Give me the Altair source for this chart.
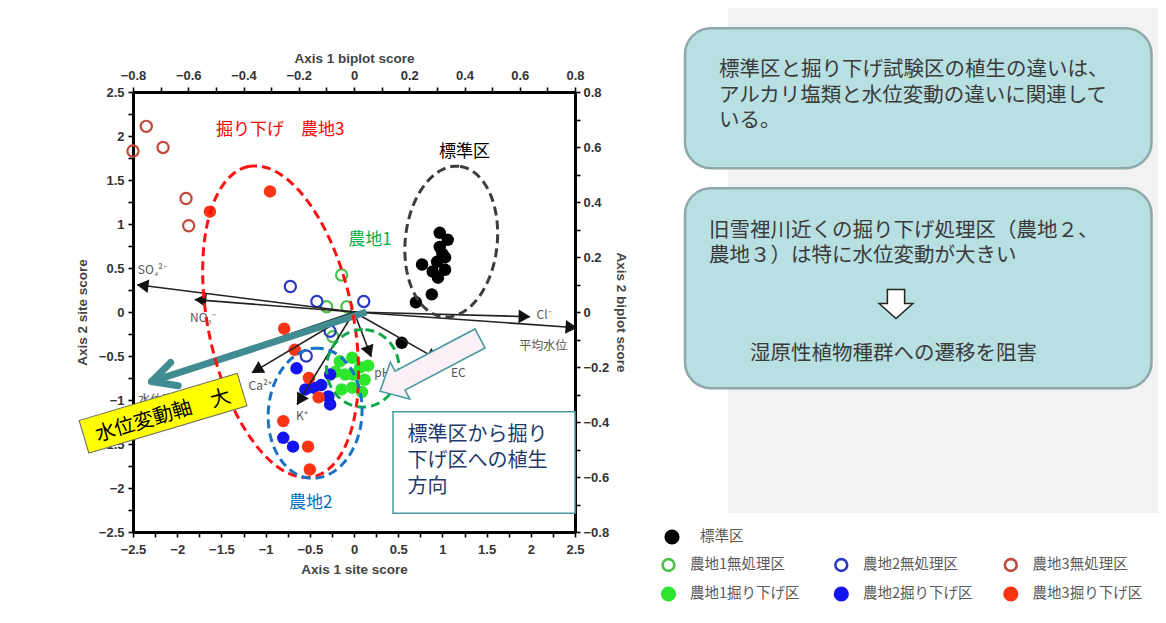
import math
import numpy as np
import pandas as pd
import altair as alt

CJK = "Noto Sans CJK JP"
LAT = "Liberation Sans"

# ------------------------------------------------------------------ data
groups = ["標準区", "農地1無処理区", "農地1掘り下げ区", "農地2無処理区",
          "農地2掘り下げ区", "農地3無処理区", "農地3掘り下げ区"]
group_colors = ["#000000", "#48c248", "#2ee52e", "#2b39c2", "#1414f0", "#c2483a", "#fa3414"]
group_filled = [True, False, True, False, True, False, True]

std_x = [0.97, 1.06, 0.97, 1.03, 0.77, 0.89, 1.03, 0.95, 0.88, 0.70, 0.54, 0.94, 1.00]
std_y = [0.90, 0.82, 0.74, 0.62, 0.54, 0.46, 0.48, 0.39, 0.20, 0.11, -0.35, 0.57, 0.66]
f1_ctrl_x = [-0.14, -0.31, -0.08, -0.24]
f1_ctrl_y = [0.42, 0.06, 0.06, -0.28]
f1_dig_x = [-0.16, -0.02, 0.07, -0.10, 0.12, -0.02, -0.14, 0.09, 0.16, -0.21, -0.01]
f1_dig_y = [-0.56, -0.52, -0.63, -0.71, -0.77, -0.86, -0.88, -0.91, -0.61, -0.68, -0.71]
f2_ctrl_x = [-0.72, -0.42, 0.11, -0.27, -0.54]
f2_ctrl_y = [0.29, 0.12, 0.12, -0.22, -0.50]
f2_dig_x = [-0.65, -0.27, -0.46, -0.37, -0.29, -0.27, -0.80, -0.69, -0.55]
f2_dig_y = [-0.64, -0.71, -0.86, -0.83, -0.96, -1.05, -1.43, -1.53, -0.88]
f3_ctrl_x = [-2.35, -2.50, -2.16, -1.90, -1.87]
f3_ctrl_y = [2.11, 1.83, 1.87, 1.29, 0.98]
f3_dig_x = [-1.63, -0.95, -0.79, -0.67, -0.51, -0.40, -0.80, -0.52, -0.50]
f3_dig_y = [1.14, 1.37, -0.19, -0.43, -0.75, -0.97, -1.24, -1.53, -1.79]

# environmental vectors (biplot scores)
env_names = ["SO₄²⁻", "NO₃⁻", "Cl⁻", "平均水位", "pH", "EC", "Ca²⁺", "K⁺", "水位変動"]
env_axis1 = [-0.785, -0.576, 0.637, 0.807, 0.062, 0.304, -0.369, -0.206, -0.731]
env_axis2 = [0.099, 0.045, -0.017, -0.057, -0.163, -0.173, -0.221, -0.337, -0.253]
env_lab_x = [-2.28, -1.71, 2.15, 2.14, 0.32, 1.18, -1.06, -0.59, -2.17]
env_lab_y = [0.48, -0.07, -0.03, -0.39, -0.69, -0.69, -0.84, -1.18, -1.00]

site_ticks = [round(-2.5 + 0.25 * i, 2) for i in range(21)]
biplot_ticks = [round(-0.8 + 0.1 * i, 2) for i in range(17)]

box1_lines = ["標準区と掘り下げ試験区の植生の違いは、", "アルカリ塩類と水位変動の違いに関連して", "いる。"]
box2_lines = ["旧雪裡川近くの掘り下げ処理区（農地２、", "農地３）は特に水位変動が大きい"]
box2_result = "湿原性植物種群への遷移を阻害"
dir_lines = ["標準区から掘り", "下げ区への植生", "方向"]

# ------------------------------------------------------------------ geometry helpers
R = 2.5 / 0.8            # site / biplot ratio
W, H = 442, 440
XS, YS = W / 5.0, H / 5.0  # px per site unit
PL, PT = 133.0, 92.0       # page position of plot origin


def px(v):
    return v - PL


def py(v):
    return v - PT


one = pd.DataFrame({"k": [0]})

sx = alt.Scale(domain=[-2.5, 2.5], nice=False, zero=False)
sy = alt.Scale(domain=[-2.5, 2.5], nice=False, zero=False)


def ax(**kw):
    base = dict(domainColor="black", domainWidth=3, tickColor="black", tickWidth=1.6, tickSize=5,
                labelFont=LAT, labelFontSize=13, labelFontWeight="bold", labelColor="#333",
                titleFont=LAT, titleFontSize=13.5, titleFontWeight="bold", titleColor="#444",
                grid=False, labelOverlap=False, labelFlush=False, labelBound=False)
    base.update(kw)
    return alt.Axis(**base)


site_expr = "abs(datum.value*2 - round(datum.value*2)) < 0.001 ? format(datum.value, '~g') : ''"
bi_expr = "abs(datum.value*5 - round(datum.value*5)) < 0.001 ? format(datum.value, '~g') : ''"

x_axis = ax(orient="bottom", title="Axis 1 site score", values=site_ticks, labelExpr=site_expr,
            labelPadding=6, titlePadding=6)
y_axis = ax(orient="left", title="Axis 2 site score", values=site_ticks, labelExpr=site_expr,
            labelPadding=4, titlePadding=9)


def X(f):
    return alt.X(f, type="quantitative", scale=sx, axis=x_axis)


def Y(f):
    return alt.Y(f, type="quantitative", scale=sy, axis=y_axis)


def block_text(lines, x, y_first, lh, size, color):
    """multi-line text block; the first line is centred on y_first"""
    return alt.Chart(one).mark_text(text=lines, font=CJK, fontSize=size, color=color, align="left",
                                    baseline="middle", lineHeight=lh).encode(
        x=alt.value(px(x)), y=alt.value(py(y_first)))


layers = []

# grey page background right of the figure
layers.append(alt.Chart(one).mark_rect(color="#f2f2f2").encode(
    x=alt.value(px(728)), x2=alt.value(px(1160)), y=alt.value(py(6)), y2=alt.value(py(513))))

# right-hand explanation boxes
for (y0, y1) in [(28.3, 168.3), (188.3, 388.3)]:
    layers.append(alt.Chart(one).mark_rect(fill="#b8dfe2", stroke="#8fa9aa", strokeWidth=2.5,
                                           cornerRadius=26).encode(
        x=alt.value(px(685)), x2=alt.value(px(1151.5)), y=alt.value(py(y0)), y2=alt.value(py(y1))))

# ------------------------------------------------------------------ points
rows = []
all_x = [std_x, f1_ctrl_x, f1_dig_x, f2_ctrl_x, f2_dig_x, f3_ctrl_x, f3_dig_x]
all_y = [std_y, f1_ctrl_y, f1_dig_y, f2_ctrl_y, f2_dig_y, f3_ctrl_y, f3_dig_y]
for g, xl, yl, fl in zip(groups, all_x, all_y, group_filled):
    for a, b in zip(xl, yl):
        rows.append({"group": g, "x": a, "y": b, "filled": fl})
pts = pd.DataFrame(rows)
cscale = alt.Scale(domain=groups, range=group_colors)

layers.append(alt.Chart(pts[~pts["filled"]]).mark_point(filled=False, size=125, strokeWidth=2.2, opacity=1).encode(
    x=X("x"), y=Y("y"), color=alt.Color("group:N", scale=cscale, legend=None)))
layers.append(alt.Chart(pts[pts["filled"]]).mark_circle(size=155, opacity=1).encode(
    x=X("x"), y=Y("y"), color=alt.Color("group:N", scale=cscale, legend=None)))

# ------------------------------------------------------------------ biplot arrows
env = pd.DataFrame({"name": env_names, "b1": env_axis1, "b2": env_axis2,
                    "lx": env_lab_x, "ly": env_lab_y})
env["ex"] = env["b1"] * R
env["ey"] = env["b2"] * R
env["x0"] = 0.0
env["y0"] = 0.0
scr_x = env["ex"].to_numpy() * XS
scr_y = -env["ey"].to_numpy() * YS
ln = np.hypot(scr_x, scr_y)
ux, uy = scr_x / ln, scr_y / ln
env["hx"] = env["ex"] - 5.5 * ux / XS
env["hy"] = env["ey"] + 5.5 * uy / YS
env["ang"] = (np.degrees(np.arctan2(ux, -uy)) + 360) % 360

layers.append(alt.Chart(env).mark_rule(color="#222", strokeWidth=1.6).encode(
    x=X("x0"), y=Y("y0"), x2="ex", y2="ey"))
layers.append(alt.Chart(env).mark_point(shape="triangle-up", filled=True, size=185, color="#111", opacity=1).encode(
    x=X("hx"), y=Y("hy"), angle=alt.Angle("ang:Q", scale=None)))
layers.append(alt.Chart(env).mark_text(font=CJK, fontSize=12, color="#555").encode(
    x=X("lx"), y=Y("ly"), text="name:N"))

# ------------------------------------------------------------------ teal water-level axis arrow
TEAL = "#418c90"
t_start = (0.14, 0.0)
t_end = (-2.29, -0.79)
teal = pd.DataFrame({"x": [t_start[0]], "y": [t_start[1]], "x2": [t_end[0]], "y2": [t_end[1]]})
layers.append(alt.Chart(teal).mark_rule(color=TEAL, strokeWidth=7, strokeCap="butt").encode(
    x=X("x"), y=Y("y"), x2="x2", y2="y2"))
dxs = (t_start[0] - t_end[0]) * XS
dys = -(t_start[1] - t_end[1]) * YS
L = math.hypot(dxs, dys)
bx, by = dxs / L, dys / L
barbs = []
for sgn in (1, -1):
    th = math.radians(27 * sgn)
    rx = bx * math.cos(th) - by * math.sin(th)
    ry = bx * math.sin(th) + by * math.cos(th)
    barbs.append({"x": t_end[0], "y": t_end[1],
                  "x2": t_end[0] + 27 * rx / XS, "y2": t_end[1] - 27 * ry / YS})
layers.append(alt.Chart(pd.DataFrame(barbs)).mark_rule(color=TEAL, strokeWidth=7, strokeCap="round").encode(
    x=X("x"), y=Y("y"), x2="x2", y2="y2"))

# ------------------------------------------------------------------ dashed ellipses
ellipses = [
    # cx, cy, a, b, angle, colour
    (-0.83, -0.11, 1.80, 0.82, 101.7, "#ff1010"),
    (1.10, 0.80, 0.86, 0.52, 84.0, "#3c3c3c"),
    (0.10, -0.64, 0.44, 0.41, 90.0, "#10a84a"),
    (-0.44, -1.15, 0.74, 0.53, 86.0, "#1a72c4"),
]
t = np.linspace(0, 2 * np.pi, 161)
for (cx, cy, a, b, phi, col) in ellipses:
    ph = math.radians(phi)
    ex = cx + a * np.cos(t) * math.cos(ph) - b * np.sin(t) * math.sin(ph)
    ey = cy + a * np.cos(t) * math.sin(ph) + b * np.sin(t) * math.cos(ph)
    edf = pd.DataFrame({"i": np.arange(len(t)), "x": ex, "y": ey})
    layers.append(alt.Chart(edf).mark_line(color=col, strokeWidth=3, strokeDash=[9, 5], strokeCap="butt").encode(
        x=X("x"), y=Y("y"), order="i:Q"))

# ------------------------------------------------------------------ hollow direction arrow
HOLLOW = "M-1,-0.19 L0.6,-0.19 L0.6,-0.37 L1,0 L0.6,0.37 L0.6,0.19 L-1,0.19 Z"
layers.append(alt.Chart(pd.DataFrame({"x": [0.86], "y": [-0.60]})).mark_point(
    shape=HOLLOW, size=113 ** 2, angle=152.2, filled=True, fill="#fcf0f7", stroke="#4a9a9e",
    strokeWidth=1.6, opacity=1).encode(x=X("x"), y=Y("y")))

# ------------------------------------------------------------------ yellow label box
RECT = "M-1,-0.206 L1,-0.206 L1,0.206 L-1,0.206 Z"
layers.append(alt.Chart(pd.DataFrame({"x": [-2.16], "y": [-1.15]})).mark_point(
    shape=RECT, size=165 ** 2, angle=343.4, filled=True, fill="#ffff00", stroke="#666",
    strokeWidth=1, opacity=1).encode(x=X("x"), y=Y("y")))
layers.append(alt.Chart(pd.DataFrame({"x": [-2.16], "y": [-1.18]})).mark_text(
    text="水位変動軸　大", angle=343.4, font=CJK, fontSize=20, color="#000").encode(x=X("x"), y=Y("y")))

# ------------------------------------------------------------------ direction text box
layers.append(alt.Chart(one).mark_rect(fill="white", stroke="#4a9a9e", strokeWidth=1.5).encode(
    x=alt.value(px(393)), x2=alt.value(px(575)), y=alt.value(py(411.7)), y2=alt.value(py(513.3))))
layers.append(block_text(dir_lines, 407.5, 435, 26, 20, "#1f3a6e"))

# ------------------------------------------------------------------ group labels in plot
glabels = pd.DataFrame({
    "t": ["掘り下げ　農地3", "標準区", "農地1", "農地2"],
    "x": [-1.56, 1.25, 0.18, -0.49],
    "y": [2.07, 1.82, 0.82, -2.17],
    "c": ["#ff0000", "#000000", "#00b050", "#0070c0"],
    "a": ["left", "center", "center", "center"],
})
for _, r in glabels.iterrows():
    layers.append(alt.Chart(pd.DataFrame({"x": [r["x"]], "y": [r["y"]]})).mark_text(
        text=r["t"], font=CJK, fontSize=17, color=r["c"], align=r["a"], baseline="middle").encode(
        x=X("x"), y=Y("y")))

# ------------------------------------------------------------------ right box texts
layers.append(block_text(box1_lines, 719, 70, 25.5, 20.5, "#3a3a3a"))
layers.append(block_text(box2_lines, 709, 231, 25, 20.5, "#3a3a3a"))
layers.append(alt.Chart(one).mark_text(text=box2_result, font=CJK, fontSize=20.5, color="#3a3a3a",
                                       align="left", baseline="middle").encode(
    x=alt.value(px(750)), y=alt.value(py(354))))
DOWN = "M-0.51,-0.86 L0.51,-0.86 L0.51,-0.03 L1,-0.03 L0,0.86 L-1,-0.03 L-0.51,-0.03 Z"
layers.append(alt.Chart(one).mark_point(shape=DOWN, size=1136, filled=True, fill="white", stroke="#222",
                                        strokeWidth=1.5, opacity=1).encode(
    x=alt.value(px(896)), y=alt.value(py(304))))

# ------------------------------------------------------------------ legend (drawn from the group list)
legend_pos = [(672, 537, 700), (668.5, 565, 690), (668.5, 594, 690), (841.3, 565, 863),
              (841.3, 594, 863), (1010.8, 565, 1032.6), (1010.8, 594, 1032.6)]
for g, col, fl, (mx, my, tx) in zip(groups, group_colors, group_filled, legend_pos):
    if fl:
        mk = alt.Chart(one).mark_circle(size=230, color=col, opacity=1)
    else:
        mk = alt.Chart(one).mark_point(size=140, filled=False, strokeWidth=2.6, color=col, opacity=1)
    layers.append(mk.encode(x=alt.value(px(mx)), y=alt.value(py(my))))
    layers.append(alt.Chart(one).mark_text(text=g, font=CJK, fontSize=14.5, color="#5a5a5a",
                                           align="left", baseline="middle").encode(
        x=alt.value(px(tx)), y=alt.value(py(my))))

site = alt.layer(*layers)

# ------------------------------------------------------------------ biplot axes (top / right)
bscale = alt.Scale(domain=[-0.8, 0.8], nice=False, zero=False)
top_axis = ax(orient="top", title="Axis 1 biplot score", values=biplot_ticks, labelExpr=bi_expr,
              labelPadding=5, titlePadding=4)
right_axis = ax(orient="right", title="Axis 2 biplot score", values=biplot_ticks, labelExpr=bi_expr,
                labelPadding=3, titlePadding=5)
biplot = alt.Chart(env).mark_point(opacity=0).encode(
    x=alt.X("b1:Q", scale=bscale, axis=top_axis),
    y=alt.Y("b2:Q", scale=bscale, axis=right_axis))

chart = alt.layer(site, biplot).resolve_scale(x="independent", y="independent").properties(
    width=W, height=H,
    padding={"left": 125, "top": 84, "right": 583, "bottom": 76},
    autosize=alt.AutoSizeParams(type="none"),
    background="white",
).configure_view(stroke=None)

chart.save("out.html", embed_options={"renderer": "svg", "actions": False})
